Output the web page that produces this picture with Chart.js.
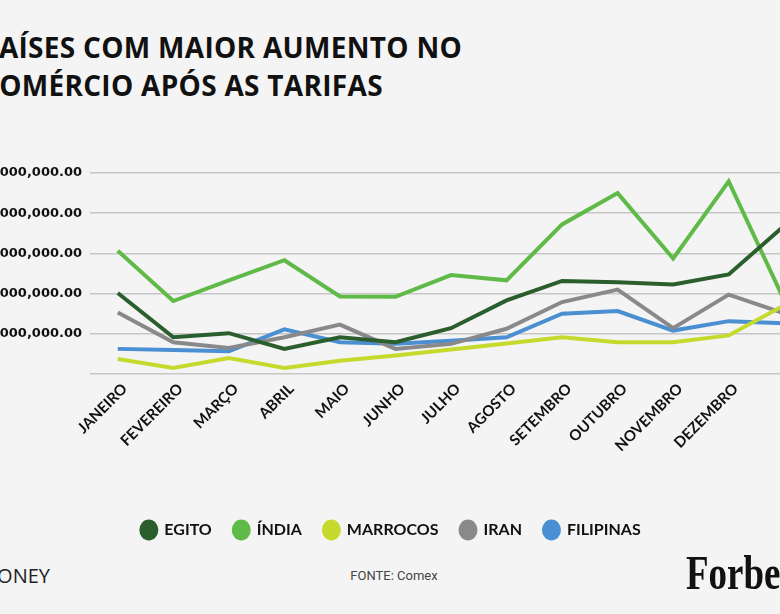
<!DOCTYPE html>
<html lang="pt">
<head>
<meta charset="utf-8">
<title>Países com maior aumento no comércio</title>
<script src="https://cdn.jsdelivr.net/npm/chart.js@4.4.1/dist/chart.umd.min.js"></script>
<style>
  body { margin: 0; background: #f4f4f4; }
  #pagina { position: relative; width: 780px; height: 614px; overflow: hidden; background: #f4f4f4; }
  #titulo { position: absolute; left: -19px; top: 28px; font-family: "Open Sans"; font-weight: 700; font-size: 28px; line-height: 38px; letter-spacing: 0.3px; color: #111; white-space: nowrap; }
  #caixa { position: absolute; left: -30px; top: 150px; width: 842px; height: 404px; }
  #marca { position: absolute; right: 730px; top: 562px; font-family: "Open Sans"; font-size: 20px; color: #222; white-space: nowrap; }
  #fonte { position: absolute; left: 0; width: 788px; text-align: center; top: 568px; font-family: Roboto; font-size: 13px; color: #444; }
  #forbes { position: absolute; left: 686px; top: 545px; font-family: "Liberation Serif"; font-weight: 700; font-size: 48px; color: #111; transform: scaleX(0.77); transform-origin: left; white-space: nowrap; }
</style>
</head>
<body>
<div id="pagina">
  <div id="titulo">PAÍSES COM MAIOR AUMENTO NO<br>COMÉRCIO APÓS AS TARIFAS</div>
  <div id="caixa"><canvas id="grafico"></canvas></div>
  <div id="marca">FORBES MONEY</div>
  <div id="fonte">FONTE: Comex</div>
  <div id="forbes">Forbes</div>
</div>
<script>
// dados (valores aproximados)
const meses = ["JANEIRO", "FEVEREIRO", "MARÇO", "ABRIL", "MAIO", "JUNHO", "JULHO",
  "AGOSTO", "SETEMBRO", "OUTUBRO", "NOVEMBRO", "DEZEMBRO", ""];
const egito = [20150000, 9150000, 10150000, 6250000, 9150000, 7900000, 11400000,
  18300000, 23150000, 22800000, 22250000, 24750000, 36900000];
const india = [30650000, 18150000, 23300000, 28300000, 19300000, 19200000, 24600000,
  23300000, 37200000, 45000000, 28750000, 47900000, 18300000];
const marrocos = [3750000, 1500000, 4000000, 1500000, 3300000, 4600000, 6100000,
  7600000, 9150000, 7900000, 7900000, 9600000, 17100000];
const iran = [15300000, 7900000, 6500000, 9150000, 12300000, 6250000, 7500000,
  11250000, 17900000, 21000000, 11400000, 19750000, 15100000];
const filipinas = [6250000, 6000000, 5650000, 11100000, 7900000, 7500000, 8300000,
  9150000, 15000000, 15650000, 10800000, 13150000, 12600000];
const ticksY = [0, 10000000, 20000000, 30000000, 40000000, 50000000];

const cores = {
  egito: "#2a5e2c",
  india: "#5fba48",
  marrocos: "#c6da2e",
  iran: "#89898c",
  filipinas: "#4a8fd1"
};

function serie(nome, valores, cor) {
  return {
    label: nome,
    data: valores,
    borderColor: cor,
    backgroundColor: cor,
    pointBackgroundColor: cor,
    borderWidth: 4,
    pointRadius: 0,
    pointHoverRadius: 0,
    tension: 0,
    fill: false
  };
}

const ctx = document.getElementById("grafico").getContext("2d");
const grafico = new Chart(ctx, {
  type: "line",
  data: {
    labels: meses,
    datasets: [
      serie("EGITO", egito, cores.egito),
      serie("ÍNDIA", india, cores.india),
      serie("MARROCOS", marrocos, cores.marrocos),
      serie("IRAN", iran, cores.iran),
      serie("FILIPINAS", filipinas, cores.filipinas)
    ]
  },
  options: {
    responsive: true,
    maintainAspectRatio: false,
    animation: false,
    layout: { padding: { top: 23, bottom: 6, left: 0, right: 0 } },
    plugins: {
      tooltip: { enabled: false },
      legend: {
        position: "bottom",
        labels: {
          usePointStyle: true,
          pointStyle: "circle",
          pointStyleWidth: 15,
          boxHeight: 12,
          padding: 22,
          color: "#111",
          font: { family: "Lato", weight: "bold", size: 16 }
        }
      }
    },
    scales: {
      x: {
        offset: true,
        grid: { display: false },
        border: { display: false },
        ticks: {
          autoSkip: false,
          minRotation: 45,
          maxRotation: 45,
          padding: -2,
          labelOffset: 7,
          color: "#111",
          font: { family: "Lato", weight: "bold", size: 15 }
        },
        afterFit: function (escala) { escala.height = 126; }
      },
      y: {
        min: 0,
        max: 50000000,
        border: { display: false },
        grid: { color: "#c6c6c6", lineWidth: 1.5, drawTicks: false },
        afterBuildTicks: function (escala) {
          escala.ticks = ticksY.map(v => ({ value: v }));
        },
        ticks: {
          padding: 8,
          color: "#111",
          font: { family: "DejaVu Sans", weight: "bold", size: 13 },
          callback: function (valor) {
            if (valor === 0) return "";
            return valor.toLocaleString("en-US", { minimumFractionDigits: 2, maximumFractionDigits: 2 });
          }
        },
        afterFit: function (escala) { escala.width = 120; }
      }
    }
  }
});
</script>
</body>
</html>
